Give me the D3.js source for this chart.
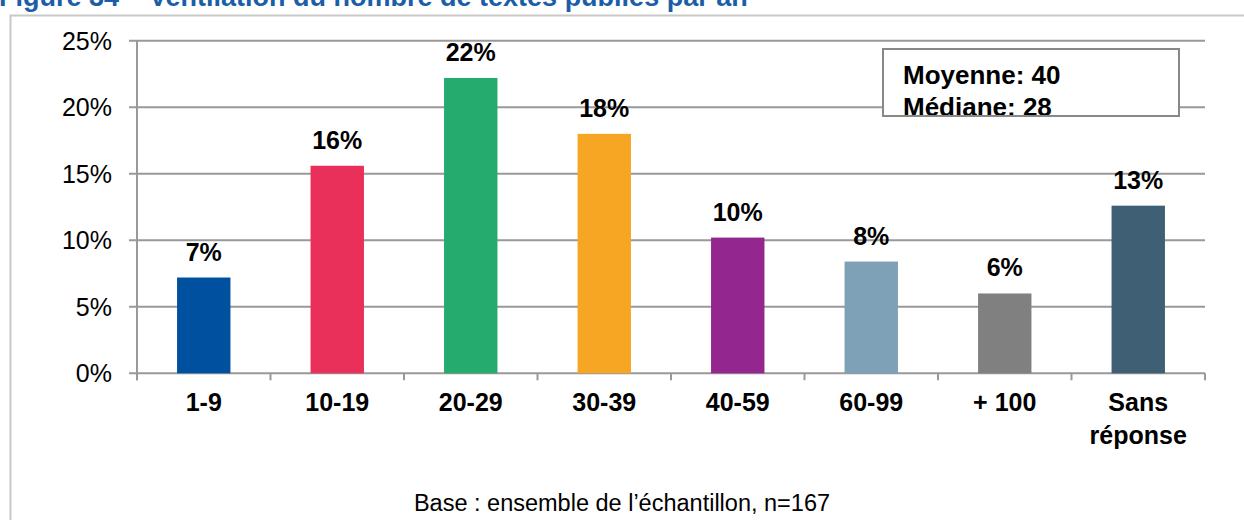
<!DOCTYPE html>
<meta charset="utf-8">
<style>
body { margin: 0; background: #fff; }
text { font-family: Arial, "Liberation Sans", sans-serif; }
.grid line { stroke: #999; stroke-width: 2; }
</style>
<svg width="1244" height="520"></svg>
<script src="https://cdn.jsdelivr.net/npm/d3@7"></script>
<script>

var categories = ["1-9", "10-19", "20-29", "30-39", "40-59", "60-99", "+ 100", "Sans réponse"];
var values = [7.2, 15.6, 22.2, 18.0, 10.2, 8.4, 6.0, 12.6];
var labels = ["7%", "16%", "22%", "18%", "10%", "8%", "6%", "13%"];
var colors = ["#0050a0", "#e8305a", "#24ab6d", "#f6a623", "#93278f", "#7fa1b8", "#808080", "#3f5f75"];
var yTicks = [0, 5, 10, 15, 20, 25];
var statLines = ["Moyenne: 40", "Médiane: 28"];

var svg = d3.select("svg"),
    width = +svg.attr("width"),
    height = +svg.attr("height");

var plotLeft = 137, plotRight = 1205, plotTop = 40.7, plotBottom = 373.3;

// title, clipped at the top of the picture
svg.append("text")
    .attr("x", -1)
    .attr("y", 6)
    .attr("fill", "#1b5ea8")
    .attr("font-weight", "bold")
    .attr("font-size", 27)
    .text("Figure 34 – Ventilation du nombre de textes publiés par an");

// outer frame
svg.append("rect")
    .attr("x", 10.5)
    .attr("y", 15.5)
    .attr("width", 1250)
    .attr("height", 520)
    .attr("fill", "#fff")
    .attr("stroke", "#c8c8c8")
    .attr("stroke-width", 2);

var x = d3.scaleBand()
    .domain(categories)
    .range([plotLeft, plotRight])
    .paddingInner(0.6)
    .paddingOuter(0.3);

var xTicks = d3.scalePoint()
    .domain(d3.range(categories.length + 1))
    .range([plotLeft, plotRight]);

var y = d3.scaleLinear()
    .domain([0, 25])
    .range([plotBottom, plotTop]);

// gridlines
svg.append("g")
    .attr("class", "grid")
  .selectAll("line")
  .data(yTicks)
  .enter().append("line")
    .attr("x1", plotLeft - 8)
    .attr("x2", plotRight)
    .attr("y1", function(d) { return y(d); })
    .attr("y2", function(d) { return y(d); });

svg.append("g")
    .attr("font-size", 25)
  .selectAll("text")
  .data(yTicks)
  .enter().append("text")
    .attr("x", 112)
    .attr("y", function(d) { return y(d) + 9; })
    .attr("text-anchor", "end")
    .text(function(d) { return d + "%"; });

// y axis line
svg.append("line")
    .attr("x1", plotLeft).attr("x2", plotLeft)
    .attr("y1", plotTop).attr("y2", plotBottom + 7)
    .attr("stroke", "#999").attr("stroke-width", 2);

// x ticks
svg.append("g")
  .selectAll("line")
  .data(xTicks.domain())
  .enter().append("line")
    .attr("x1", function(d) { return xTicks(d); })
    .attr("x2", function(d) { return xTicks(d); })
    .attr("y1", plotBottom)
    .attr("y2", plotBottom + 7)
    .attr("stroke", "#999").attr("stroke-width", 2);

// bars
svg.append("g")
  .selectAll("rect")
  .data(values)
  .enter().append("rect")
    .attr("x", function(d, i) { return x(categories[i]); })
    .attr("width", x.bandwidth())
    .attr("y", function(d) { return y(d); })
    .attr("height", function(d) { return y(0) - y(d); })
    .attr("fill", function(d, i) { return colors[i]; });

svg.append("g")
    .attr("font-size", 25)
    .attr("font-weight", "bold")
    .attr("text-anchor", "middle")
  .selectAll("text")
  .data(values)
  .enter().append("text")
    .attr("x", function(d, i) { return x(categories[i]) + x.bandwidth() / 2; })
    .attr("y", function(d) { return y(d) - 17; })
    .text(function(d, i) { return labels[i]; });

// category labels
var cat = svg.append("g")
    .attr("font-size", 25)
    .attr("font-weight", "bold")
    .attr("text-anchor", "middle")
  .selectAll("text")
  .data(categories)
  .enter().append("text")
    .attr("x", function(d) { return x(d) + x.bandwidth() / 2; })
    .attr("y", 411);

cat.each(function(d) {
  var words = d === "Sans réponse" ? ["Sans", "réponse"] : [d];
  var t = d3.select(this);
  words.forEach(function(w, j) {
    t.append("tspan")
        .attr("x", t.attr("x"))
        .attr("dy", j ? 33 : 0)
        .text(w);
  });
});

// stats box (second line is cut by the box edge, as in the original)
var box = { x: 883, y: 49, w: 296, h: 67 };
svg.append("clipPath")
    .attr("id", "boxclip")
  .append("rect")
    .attr("x", box.x).attr("y", box.y)
    .attr("width", box.w).attr("height", box.h);

svg.append("rect")
    .attr("x", box.x).attr("y", box.y)
    .attr("width", box.w).attr("height", box.h)
    .attr("fill", "#fff");

svg.append("g")
    .attr("clip-path", "url(#boxclip)")
    .attr("font-size", 26)
    .attr("font-weight", "bold")
  .selectAll("text")
  .data(statLines)
  .enter().append("text")
    .attr("x", box.x + 20)
    .attr("y", function(d, i) { return box.y + 35 + i * 32; })
    .text(function(d) { return d; });

svg.append("rect")
    .attr("x", box.x).attr("y", box.y)
    .attr("width", box.w).attr("height", box.h)
    .attr("fill", "none")
    .attr("stroke", "#888")
    .attr("stroke-width", 2);

svg.append("text")
    .attr("x", width / 2)
    .attr("y", 511)
    .attr("text-anchor", "middle")
    .attr("font-size", 23.5)
    .text("Base : ensemble de l’échantillon, n=167");

</script>
